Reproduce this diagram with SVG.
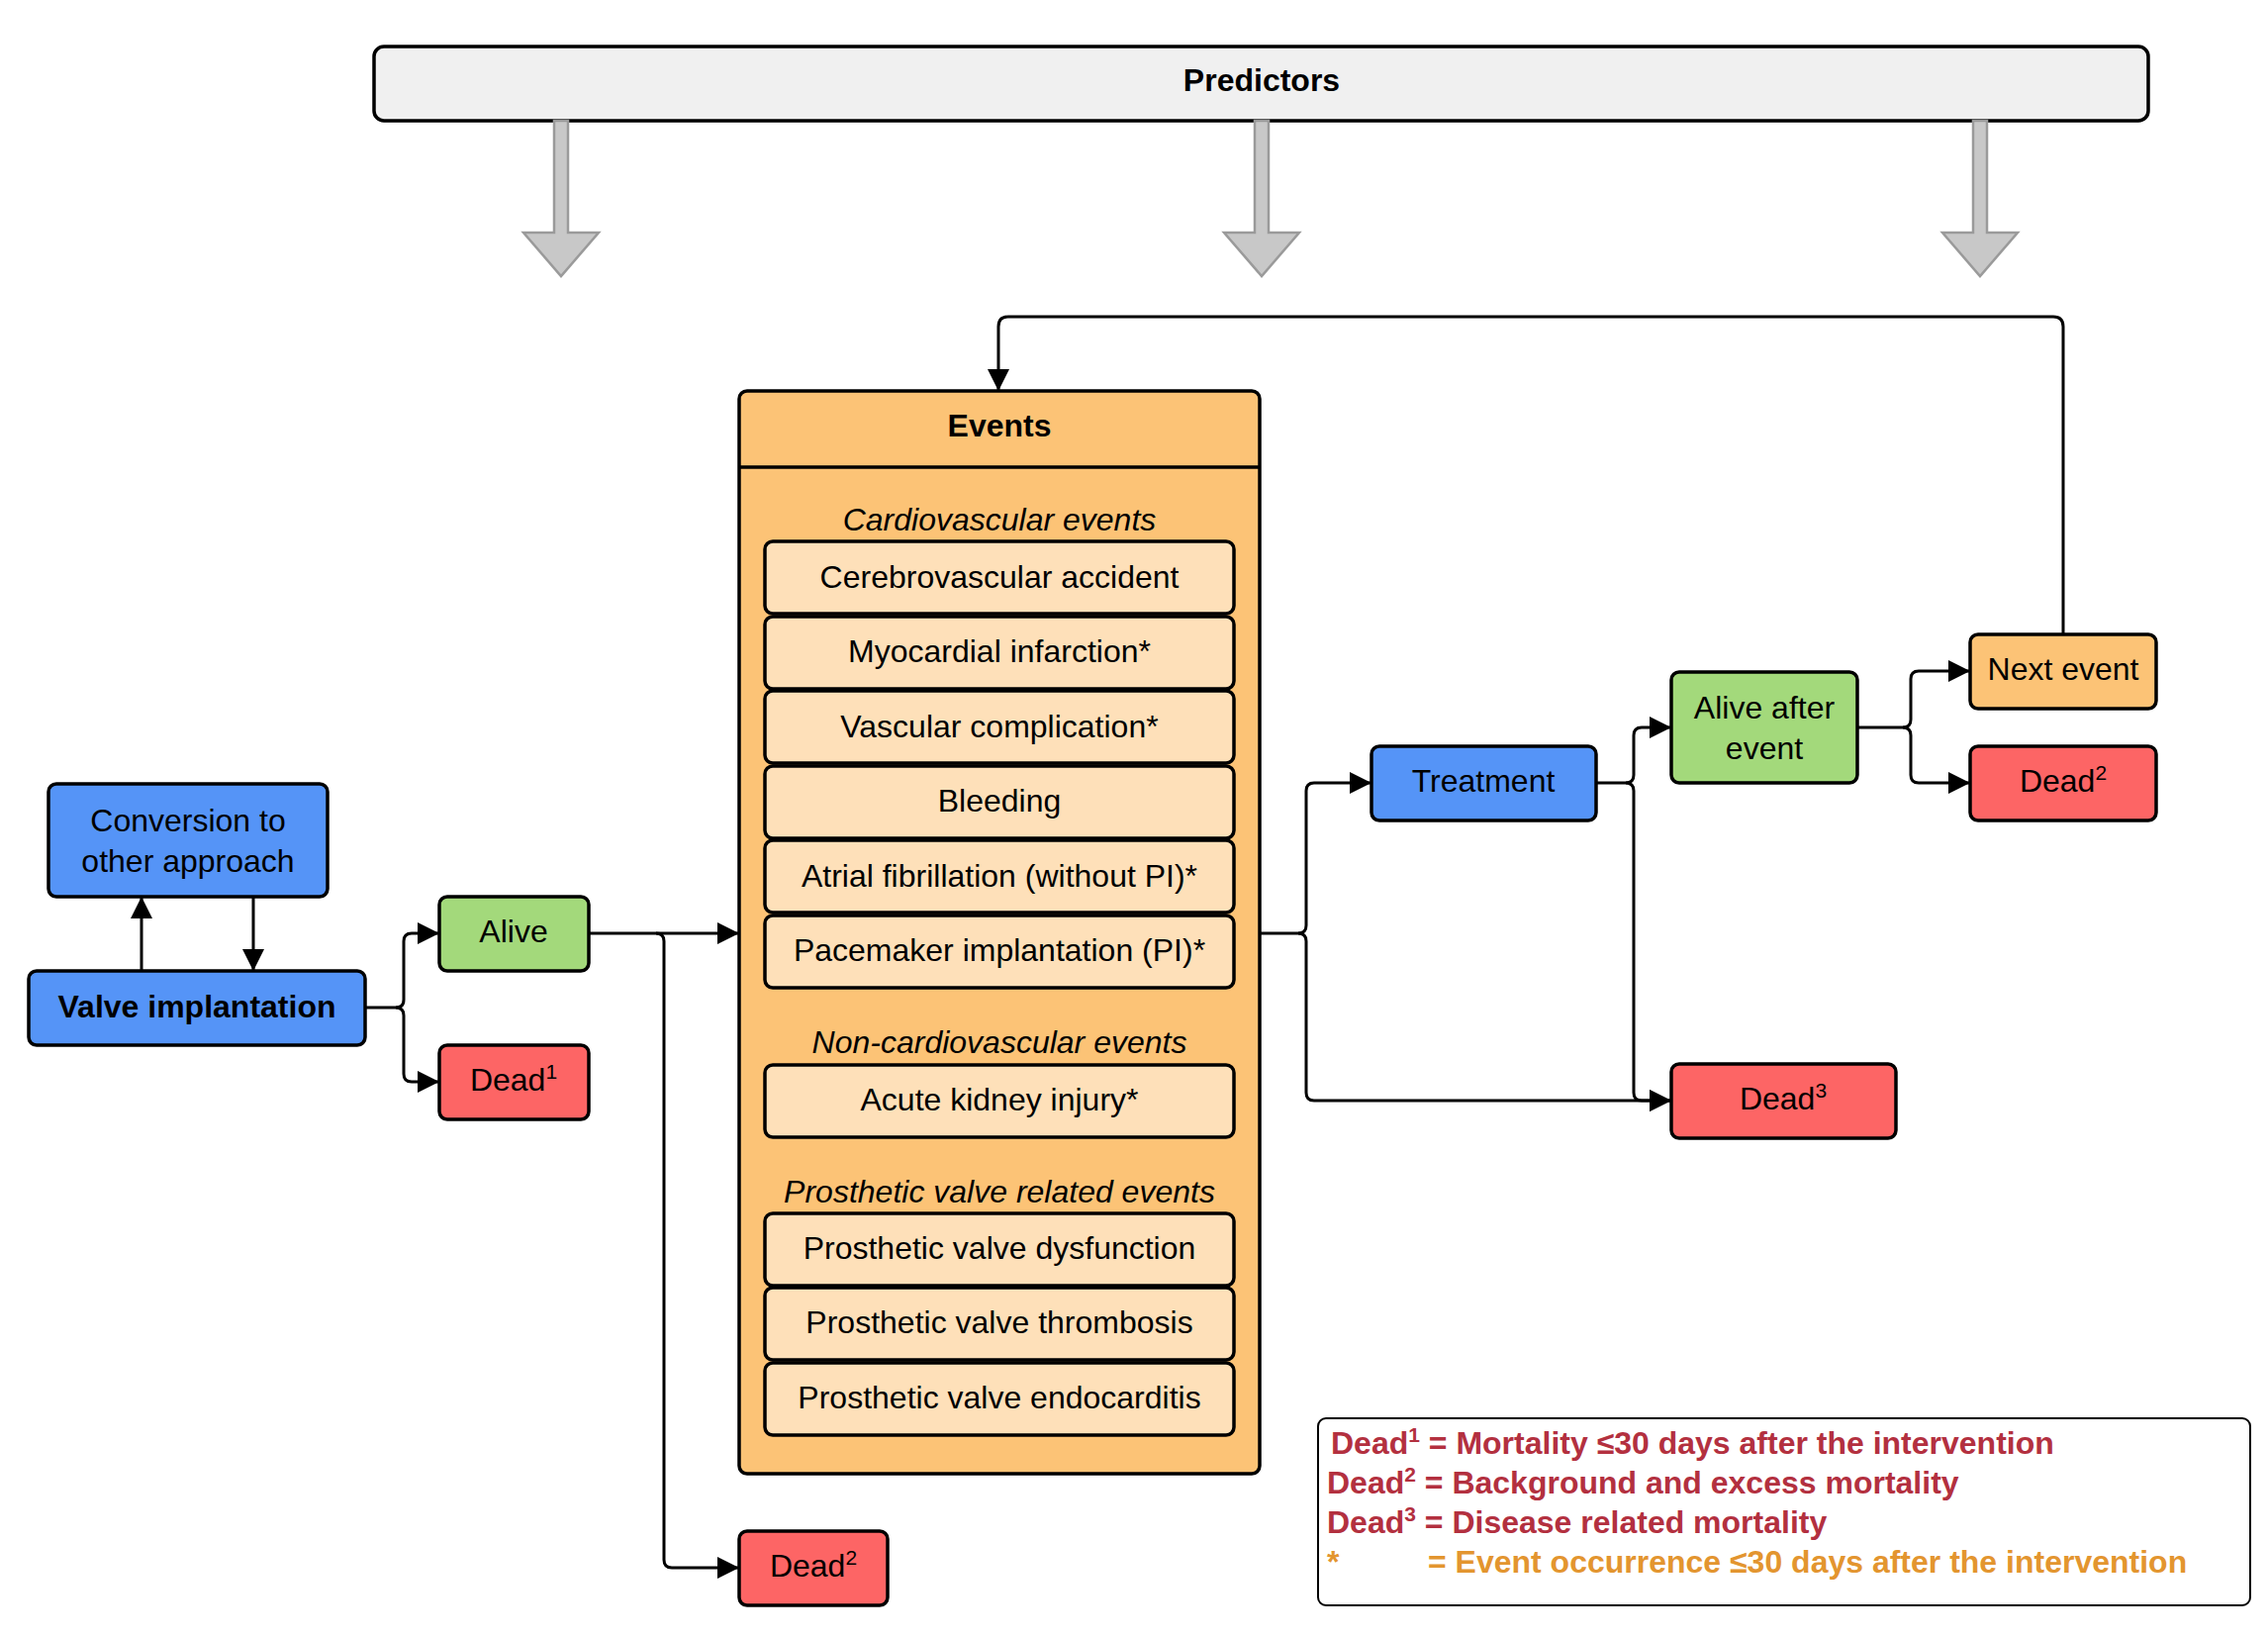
<svg xmlns="http://www.w3.org/2000/svg" width="2292" height="1655" viewBox="0 0 2292 1655">
<defs>
<style>
.n{stroke:#000;stroke-width:3.5}
.blue{fill:#5594f7}.green{fill:#a3d97b}.red{fill:#fd6565}.org{fill:#fcc376}.lt{fill:#fee0b9}
text{font-family:"Liberation Sans",Arial,sans-serif;font-size:32px;fill:#000;text-anchor:middle}
.b{font-weight:bold}.i{font-style:italic}
.c{fill:none;stroke:#000;stroke-width:3}
.ga{fill:#c8c8c8;stroke:#9a9a9a;stroke-width:2.5}
.lg{font-weight:bold;font-size:32px;text-anchor:start;fill:#b3303f}
</style>
<marker id="ah" markerWidth="12" markerHeight="10" refX="11" refY="5" orient="auto" markerUnits="userSpaceOnUse" viewBox="0 0 12 10">
</marker>
<marker id="a" viewBox="0 0 10 10" refX="10" refY="5" markerWidth="26" markerHeight="22" markerUnits="userSpaceOnUse" orient="auto"><path d="M0,0L10,5L0,10z" fill="#000"/></marker>
</defs>

<g id="predictors">
<rect class="n" x="378" y="47" width="1793" height="75" rx="10" fill="#f0f0f0"/>
<text class="b" x="1275" y="92">Predictors</text>
</g>
<g id="predictor-arrows">
<path class="ga" d="M560,122h14v113h31l-38,44l-38,-44h31z"/>
<path class="ga" d="M1268,122h14v113h31l-38,44l-38,-44h31z"/>
<path class="ga" d="M1994,122h14v113h31l-38,44l-38,-44h31z"/>
</g>

<g id="events">
<rect class="n org" x="747" y="395" width="526" height="1094" rx="8"/>
<line class="n" x1="747" y1="472" x2="1273" y2="472"/>
<text class="b" x="1010" y="441">Events</text>
<text class="i" x="1010" y="536">Cardiovascular events</text>
<g>
<rect class="n lt" x="773" y="547" width="474" height="73" rx="8"/><text x="1010" y="594">Cerebrovascular accident</text>
<rect class="n lt" x="773" y="623" width="474" height="73" rx="8"/><text x="1010" y="669">Myocardial infarction*</text>
<rect class="n lt" x="773" y="698" width="474" height="73" rx="8"/><text x="1010" y="745">Vascular complication*</text>
<rect class="n lt" x="773" y="774" width="474" height="73" rx="8"/><text x="1010" y="820">Bleeding</text>
<rect class="n lt" x="773" y="849" width="474" height="73" rx="8"/><text x="1010" y="896">Atrial fibrillation (without PI)*</text>
<rect class="n lt" x="773" y="925" width="474" height="73" rx="8"/><text x="1010" y="971">Pacemaker implantation (PI)*</text>
</g>
<text class="i" x="1010" y="1064">Non-cardiovascular events</text>
<rect class="n lt" x="773" y="1076" width="474" height="73" rx="8"/><text x="1010" y="1122">Acute kidney injury*</text>
<text class="i" x="1010" y="1215">Prosthetic valve related events</text>
<rect class="n lt" x="773" y="1226" width="474" height="73" rx="8"/><text x="1010" y="1272">Prosthetic valve dysfunction</text>
<rect class="n lt" x="773" y="1301" width="474" height="73" rx="8"/><text x="1010" y="1347">Prosthetic valve thrombosis</text>
<rect class="n lt" x="773" y="1377" width="474" height="73" rx="8"/><text x="1010" y="1423">Prosthetic valve endocarditis</text>
</g>

<g id="conversion"><rect class="n blue" x="49" y="792" width="282" height="114" rx="8"/><text x="190" y="840">Conversion to</text><text x="190" y="881">other approach</text></g>
<g id="valve"><rect class="n blue" x="29" y="981" width="340" height="75" rx="8"/><text class="b" x="199" y="1028">Valve implantation</text></g>
<g id="alive"><rect class="n green" x="444" y="906" width="151" height="75" rx="8"/><text x="519" y="952">Alive</text></g>
<g id="dead1"><rect class="n red" x="444" y="1056" width="151" height="75" rx="8"/><text x="519" y="1102">Dead<tspan font-size="21" dy="-12">1</tspan></text></g>
<g id="dead2-bottom"><rect class="n red" x="747" y="1547" width="150" height="75" rx="8"/><text x="822" y="1593">Dead<tspan font-size="21" dy="-12">2</tspan></text></g>
<g id="treatment"><rect class="n blue" x="1386" y="754" width="227" height="75" rx="8"/><text x="1499" y="800">Treatment</text></g>
<g id="alive-after"><rect class="n green" x="1689" y="679" width="188" height="112" rx="8"/><text x="1783" y="726">Alive after</text><text x="1783" y="767">event</text></g>
<g id="next-event"><rect class="n org" x="1991" y="641" width="188" height="75" rx="8"/><text x="2085" y="687">Next event</text></g>
<g id="dead2-right"><rect class="n red" x="1991" y="754" width="188" height="75" rx="8"/><text x="2085" y="800">Dead<tspan font-size="21" dy="-12">2</tspan></text></g>
<g id="dead3"><rect class="n red" x="1689" y="1075" width="227" height="75" rx="8"/><text x="1802" y="1121">Dead<tspan font-size="21" dy="-12">3</tspan></text></g>

<g id="connectors">
<path class="c" d="M143,981V906" marker-end="url(#a)"/>
<path class="c" d="M256,906V981" marker-end="url(#a)"/>
<path class="c" d="M369,1018H400q8,0 8,-8V951q0,-8 8,-8H444" marker-end="url(#a)"/>
<path class="c" d="M400,1018q8,0 8,8V1085q0,8 8,8H444" marker-end="url(#a)"/>
<path class="c" d="M595,943H747" marker-end="url(#a)"/>
<path class="c" d="M663,943q8,0 8,8V1576q0,8 8,8H747" marker-end="url(#a)"/>
<path class="c" d="M1273,943H1312q8,0 8,-8V799q0,-8 8,-8H1386" marker-end="url(#a)"/>
<path class="c" d="M1312,943q8,0 8,8V1104q0,8 8,8H1689" marker-end="url(#a)"/>
<path class="c" d="M1613,791H1643q8,0 8,-8V743q0,-8 8,-8H1689" marker-end="url(#a)"/>
<path class="c" d="M1643,791q8,0 8,8V1104q0,8 8,8H1689" marker-end="url(#a)"/>
<path class="c" d="M1877,735H1923q8,0 8,-8V686q0,-8 8,-8H1991" marker-end="url(#a)"/>
<path class="c" d="M1923,735q8,0 8,8V783q0,8 8,8H1991" marker-end="url(#a)"/>
<path class="c" d="M2085,641V330q0,-10 -10,-10H1019q-10,0 -10,10V395" marker-end="url(#a)"/>
</g>

<g id="legend">
<rect x="1332" y="1433" width="942" height="189" rx="8" fill="#fff" stroke="#000" stroke-width="2"/>
<text class="lg" x="1345" y="1469">Dead<tspan font-size="21" dy="-12">1</tspan><tspan dy="12"> = Mortality ≤30 days after the intervention</tspan></text>
<text class="lg" x="1341" y="1509">Dead<tspan font-size="21" dy="-12">2</tspan><tspan dy="12"> = Background and excess mortality</tspan></text>
<text class="lg" x="1341" y="1549">Dead<tspan font-size="21" dy="-12">3</tspan><tspan dy="12"> = Disease related mortality</tspan></text>
<text class="lg" x="1341" y="1589" style="fill:#e3952f">*</text>
<text class="lg" x="1443" y="1589" style="fill:#e3952f">= Event occurrence ≤30 days after the intervention</text>
</g>
</svg>
